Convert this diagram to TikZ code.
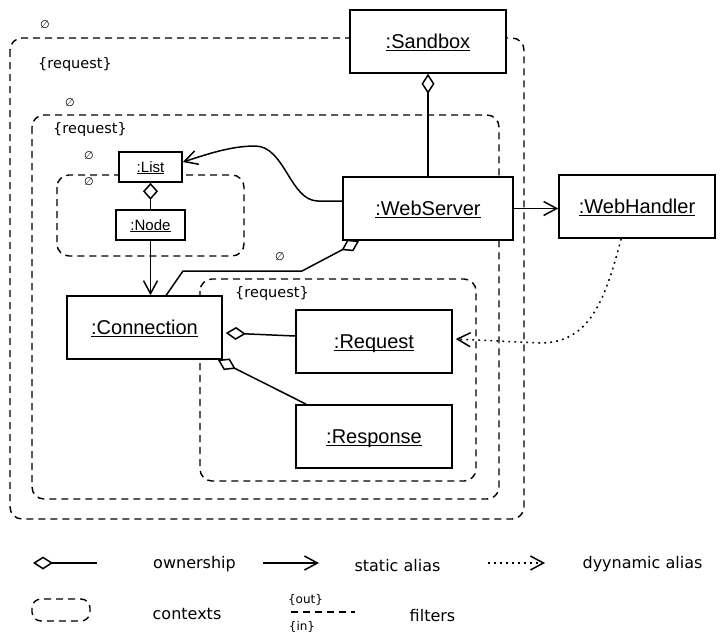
\documentclass[tikz,border=0pt]{standalone}
\usepackage{fontspec}
\setmainfont{Liberation Sans}
\newfontfamily\lgf{DejaVu Sans}
\usetikzlibrary{arrows.meta,calc}
\newcommand\ulab[1]{\setbox0\hbox{#1}\rlap{\rule[-0.12em]{\wd0}{0.06em}}\box0}
\tikzset{
 obj/.style={draw, line width=1.6pt, fill=white, inner sep=0pt, minimum width=156pt, minimum height=63pt, font=\fontsize{20}{24}\selectfont, text height=14.3pt, text depth=0pt},
 sobj/.style={obj, minimum width=63pt, minimum height=30pt, font=\fontsize{15}{18}\selectfont, text height=10.7pt},
 ctx/.style={line width=1.4pt, dash pattern=on 7pt off 5pt, rounded corners=12pt},
 lnk/.style={line width=1.5pt},
 own/.style={lnk, {Diamond[open,length=20pt,width=13pt]}-},
 owns/.style={lnk, {Diamond[open,length=17pt,width=15pt]}-},
 sal/.style={lnk, -{Straight Barb[length=13pt,width=14pt]}},
 dyn/.style={lnk, dash pattern=on 1.8pt off 4.2pt, -{Straight Barb[length=13pt,width=14pt]}},
 lbl/.style={font=\lgf\fontsize{14.5}{17}\selectfont, text height=10.9pt, text depth=3.6pt, inner sep=0pt},
 leg/.style={font=\lgf\fontsize{16}{19}\selectfont, text height=12pt, text depth=4pt, inner sep=0pt},
 fil/.style={font=\lgf\fontsize{12}{14}\selectfont, text height=9pt, text depth=3pt, inner sep=0pt},
 emp/.style={font=\lgf\fontsize{11}{13}\selectfont, inner sep=0pt},
}
\begin{document}
\begin{tikzpicture}[x=1pt,y=-1pt]
\useasboundingbox (0,0) rectangle (721,641);
% contexts
\draw[ctx] (10,38) rectangle (524,519);
\draw[ctx] (32,115) rectangle (499,499);
\draw[ctx] (57,175) rectangle (244,256);
\draw[ctx] (200,279) rectangle (476,481);
% objects
\node[obj] (sb) at (428,41.5) {\ulab{:Sandbox}};
\node[obj, minimum width=170pt] (ws) at (428,208.5) {\ulab{:WebServer}};
\node[obj] (wh) at (637,206.5) {\ulab{:WebHandler}};
\node[sobj] (list) at (150.5,167) {\ulab{:List}};
\node[sobj, minimum width=69pt] (nd) at (150.5,225) {\ulab{:Node}};
\node[obj, minimum width=155pt] (conn) at (144.5,327.5) {\ulab{:Connection}};
\node[obj] (req) at (374,341.5) {\ulab{:Request}};
\node[obj] (resp) at (374,436.5) {\ulab{:Response}};
% labels
\node[emp] (e1) at (45,25) {∅};
\node[emp] (e2) at (70,103) {∅};
\node[emp] (e3) at (89,156) {∅};
\node[emp] (e4) at (89,182) {∅};
\node[emp] (e5) at (280,257) {∅};
\node[lbl] (r1) at (75,64.4) {\{request\}};
\node[lbl] (r2) at (90,129.7) {\{request\}};
\node[lbl] (r3) at (272,294) {\{request\}};
% connectors
\draw[own] (sb.south) -- (ws.north);
\draw[owns] (list.south) -- (nd.north);
\draw[sal] (nd.south) -- (nd.south |- conn.north);
\draw[sal] ($(ws.west)+(0,-7.5)$) -- (318,201) .. controls (290,201) and (285,146) .. (255,146) .. controls (230,146) and (205,155) .. ([yshift=5pt]list.east);
\draw[sal] (ws.east) -- (ws.east -| wh.west);
\draw[own] ($(ws.south west)+(17,0)$) -- (302,271) -- (183,271) -- ($(conn.north west)+(100,0)$);
\draw[own] ($(conn.east)+(3,5.5)$) -- ($(req.west)+(0,-5.5)$);
\draw[own] ($(conn.south east)+(-5,0)$) -- ($(resp.north west)+(11,0)$);
\draw[dyn] ($(wh.south west)+(63,0)$) .. controls (605,300) and (590,343) .. (540,343) -- ($(req.east)+(3,-2.5)$);
% legend
\coordinate (la1) at (33,563); \coordinate (la2) at (97,563);
\draw[own] (la1) -- (la2);
\node[leg] (lt1) at (194.5,564.3) {ownership};
\coordinate (lb1) at (263,563); \coordinate (lb2) at (319,563);
\draw[sal] (lb1) -- (lb2);
\node[leg] (lt2) at (397.5,567) {static alias};
\coordinate (lc1) at (488,563); \coordinate (lc2) at (545,563);
\draw[dyn] (lc1) -- (lc2);
\node[leg] (lt3) at (642.5,564) {dyynamic alias};
\draw[ctx, rounded corners=9pt] (32,599) rectangle (90,621);
\node[leg] (lt4) at (187,615) {contexts};
\node[fil] (lo) at (305.5,600) {\{out\}};
\coordinate (ld1) at (291,612); \coordinate (ld2) at (355,612);
\draw[ctx] (ld1) -- (ld2);
\node[fil] (li) at (302,627) {\{in\}};
\node[leg] (lt5) at (432.5,617) {filters};
\end{tikzpicture}
\end{document}
